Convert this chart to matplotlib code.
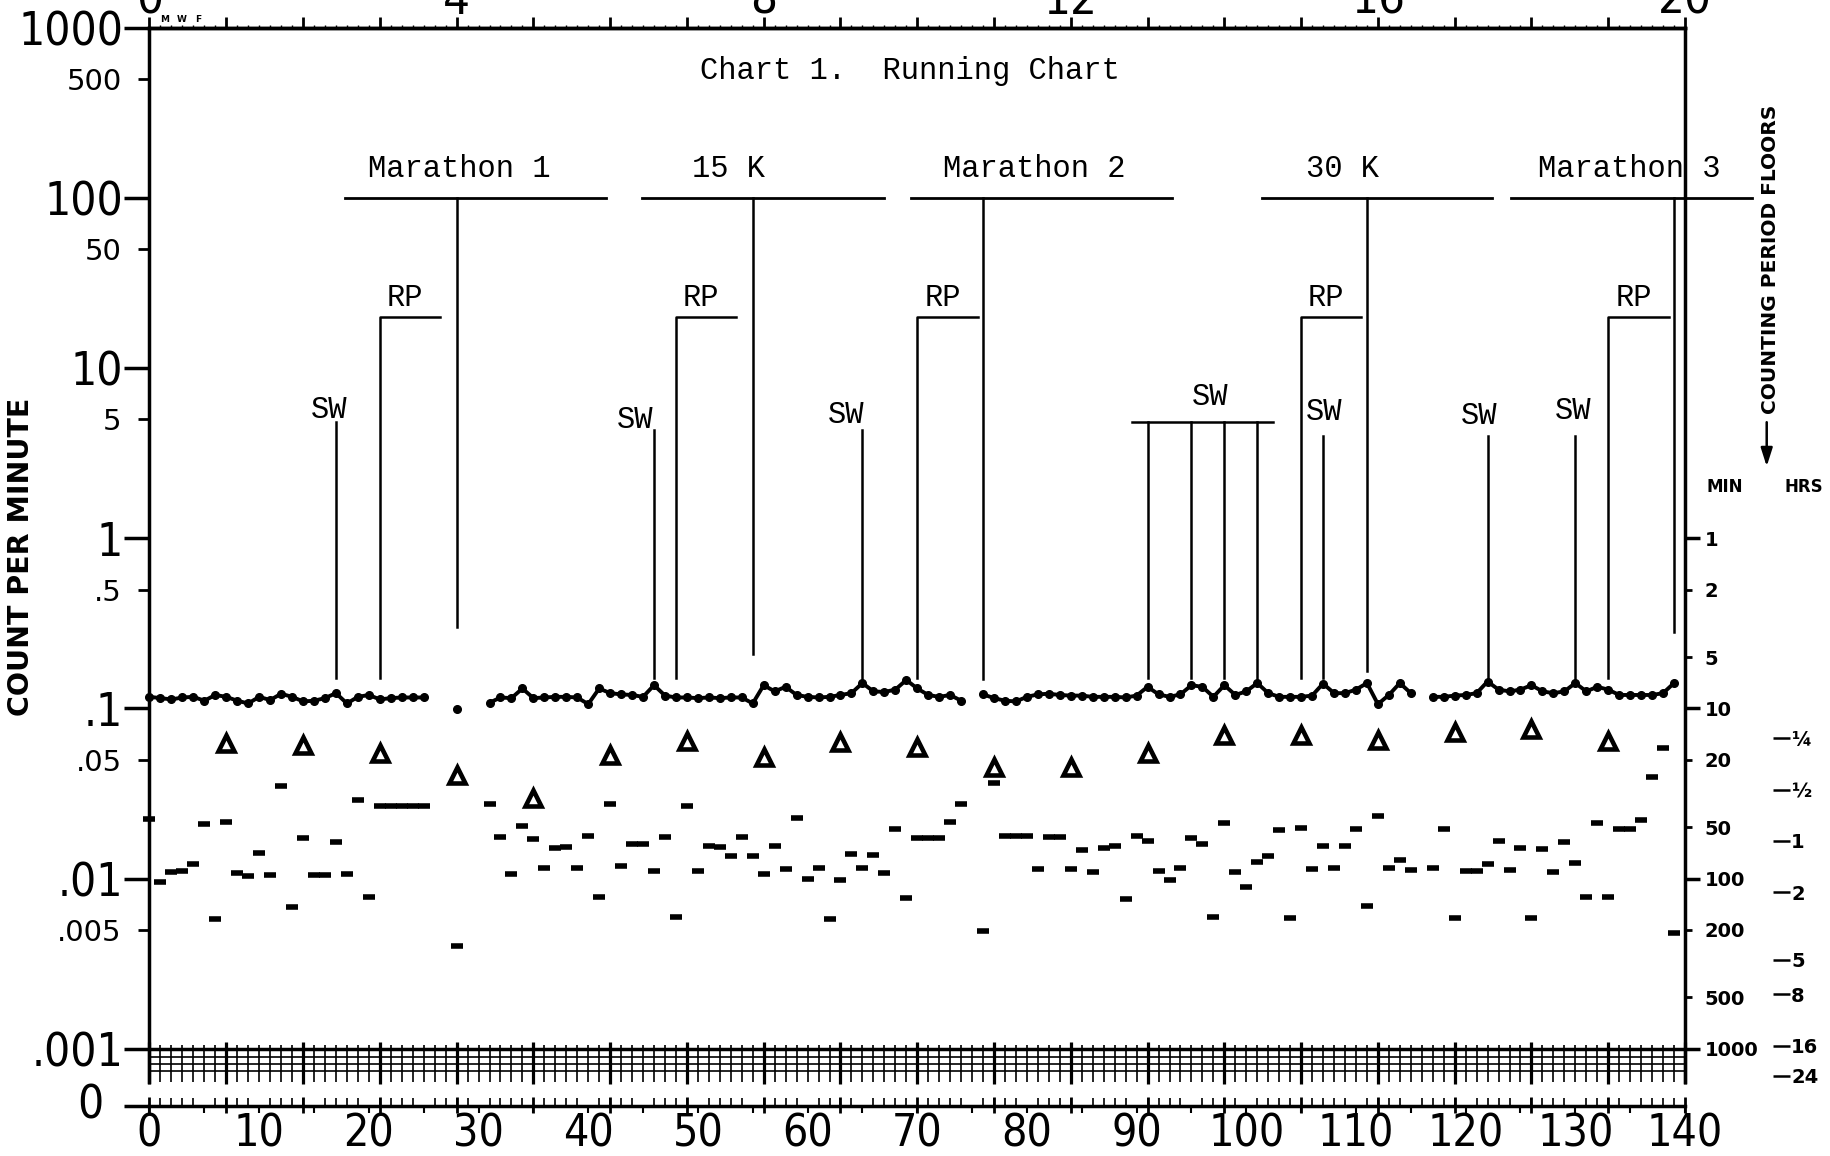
import matplotlib
matplotlib.use('Agg')
import matplotlib.pyplot as plt
import numpy as np

# ---- values (count per minute, one entry per day) ----
lineDays = list(range(0, 26)) + [28] + list(range(31, 75)) + list(range(76, 116)) + list(range(117, 140))
lineValues = [0.117, 0.115, 0.113, 0.116, 0.117, 0.111, 0.120, 0.117, 0.111, 0.107,
              0.117, 0.112, 0.122, 0.117, 0.110, 0.111, 0.115, 0.123, 0.107, 0.117,
              0.120, 0.113, 0.115, 0.116, 0.116, 0.116,
              0.099,
              0.108, 0.116, 0.115, 0.131, 0.115, 0.116, 0.117, 0.117, 0.116, 0.106,
              0.131, 0.123, 0.121, 0.120, 0.117, 0.137, 0.119, 0.116, 0.116, 0.115,
              0.116, 0.115, 0.116, 0.116, 0.107, 0.137, 0.126, 0.134, 0.120, 0.117,
              0.116, 0.117, 0.120, 0.123, 0.141, 0.126, 0.125, 0.129, 0.147, 0.131,
              0.120, 0.117, 0.120, 0.111,
              0.121, 0.115, 0.111, 0.110, 0.117, 0.121, 0.122, 0.120, 0.119, 0.119,
              0.117, 0.117, 0.117, 0.116, 0.119, 0.134, 0.121, 0.117, 0.121, 0.137,
              0.134, 0.117, 0.137, 0.120, 0.126, 0.141, 0.123, 0.117, 0.117, 0.117,
              0.119, 0.140, 0.123, 0.123, 0.129, 0.141, 0.106, 0.120, 0.141, 0.123,
              0.117, 0.117, 0.119, 0.120, 0.123, 0.144, 0.129, 0.126, 0.129, 0.137,
              0.126, 0.123, 0.126, 0.141, 0.126, 0.134, 0.129, 0.120, 0.120, 0.120,
              0.120, 0.123, 0.141]

dashDays = list(lineDays)
dashValues = [0.0224, 0.0095, 0.0109, 0.0111, 0.0122, 0.0209, 0.00578, 0.0216, 0.0108, 0.0104,
              0.0141, 0.0105, 0.035, 0.00684, 0.0172, 0.0105, 0.0105, 0.0163, 0.0106, 0.029,
              0.0078, 0.0268, 0.0268, 0.0268, 0.0268, 0.0268,
              0.0040,
              0.0274, 0.0176, 0.0106, 0.0205, 0.017, 0.0116, 0.0152, 0.0154, 0.0115, 0.0179,
              0.0078, 0.0275, 0.0119, 0.0159, 0.0159, 0.0111, 0.0176, 0.00597, 0.0268, 0.0111,
              0.0156, 0.0153, 0.0136, 0.0175, 0.0136, 0.0107, 0.0156, 0.0114, 0.0226, 0.0099,
              0.0116, 0.00576, 0.0098, 0.0139, 0.0115, 0.0138, 0.0108, 0.0195, 0.0077, 0.0174,
              0.0174, 0.0174, 0.0215, 0.0275,
              0.00494, 0.0366, 0.0178, 0.0178, 0.0178, 0.0114, 0.0176, 0.0176, 0.0114, 0.0147,
              0.0109, 0.0151, 0.0156, 0.00759, 0.0178, 0.0166, 0.0111, 0.0098, 0.0116, 0.0174,
              0.016, 0.00597, 0.0211, 0.011, 0.00896, 0.0125, 0.0135, 0.0193, 0.00589, 0.0198,
              0.0114, 0.0156, 0.0115, 0.0156, 0.0196, 0.0069, 0.0233, 0.0115, 0.0128, 0.0112,
              0.0116, 0.0196, 0.00589, 0.0111, 0.0111, 0.0122, 0.0166, 0.0113, 0.0151, 0.00589,
              0.015, 0.0109, 0.0163, 0.0123, 0.00783, 0.0211, 0.0078, 0.0195, 0.0195, 0.0221,
              0.0394, 0.0583, 0.00481]

triangleDays = list(range(7, 134, 7))
triangleValues = [0.0624, 0.061, 0.0546, 0.0407, 0.0297, 0.0533, 0.0644, 0.0521, 0.0638, 0.0597,
                  0.0451, 0.0455, 0.0546, 0.0698, 0.0698, 0.0653, 0.073, 0.0755, 0.0644]

# phase / event annotations
raceNames = ['Marathon 1', '15 K', 'Marathon 2', '30 K', 'Marathon 3']
raceDays = [28, 55, 76, 111, 139]
raceStarts = [17.8, 44.9, 69.4, 101.4, 124.1]
raceEnds = [41.6, 67.0, 93.2, 122.4, 146.1]
raceLabelDays = [28.2, 52.8, 80.7, 108.8, 134.9]
raceLineBottoms = [0.30, 0.21, 0.148, 0.165, 0.28]

rpDays = [21, 48, 70, 105, 133]

swDays = [17, 46, 65, 91, 95, 98, 101, 107, 122, 130]
swTops = [4.8, 4.35, 4.35, 4.8, 4.8, 4.8, 4.8, 4.0, 4.0, 4.0]
swLabelDays = [16.4, 44.3, 63.5, 96.7, 107.1, 121.2, 129.8]
swLabelValues = [5.09, 4.48, 4.78, 6.05, 4.93, 4.70, 5.01]
swBracket = (89.6, 102.4, 4.8)

# axis labels
leftMajorValues = [1000, 100, 10, 1, 0.1, 0.01, 0.001]
leftMajorLabels = ['1000', '100', '10', '1', '.1', '.01', '.001']
leftMinorValues = [500, 50, 5, 0.5, 0.05, 0.005]
leftMinorLabels = ['500', '50', '5', '.5', '.05', '.005']
minuteMajor = [1, 10, 100, 1000]
minuteMinor = [2, 5, 20, 50, 200, 500]
hourFloors = [0.25, 0.5, 1, 2, 5, 8, 16, 24]
hourLabels = ['¼', '½', '1', '2', '5', '8', '16', '24']

ZERO = 10 ** -3.337      # the "0" line under the chart
GRID_BOTTOM = 10 ** -3.194
MONO = 'Liberation Mono'

fig = plt.figure(figsize=(18.31, 11.56), dpi=100, facecolor='white')
ax = fig.add_axes([149.5 / 1831, 1 - 1106 / 1156, 1535.5 / 1831, 1078 / 1156])
ax.set_yscale('log')
ax.set_ylim(ZERO, 1000)
ax.set_xlim(0, 140)

for side in ['left', 'right', 'top', 'bottom']:
    ax.spines[side].set_linewidth(2.5)
ax.spines['left'].set_bounds(GRID_BOTTOM, 1000)
ax.spines['right'].set_bounds(GRID_BOTTOM, 1000)

# left count axis
ax.set_yticks([ZERO] + leftMajorValues, [''] + leftMajorLabels)
ax.set_yticks(leftMinorValues, leftMinorLabels, minor=True)
ax.tick_params(axis='y', which='major', right=False, length=18, width=2.5, pad=1, labelsize=33)
ax.tick_params(axis='y', which='minor', right=False, length=8, width=2, pad=12, labelsize=21)
ax.annotate('0', xy=(0, ZERO), xytext=(-33, 0), textcoords='offset points', fontstretch='condensed',
            ha='right', va='center', fontsize=33, annotation_clip=False)
ax.set_ylabel('COUNT PER MINUTE', fontsize=20.5, fontweight='bold')
ax.yaxis.set_label_coords(-0.0746, 0.509)

# bottom day axis on the zero line
ax.set_xticks(range(0, 141, 5), [str(d) if d % 10 == 0 else '' for d in range(0, 141, 5)])
ax.set_xticks(range(0, 141), minor=True)
ax.tick_params(axis='x', which='major', direction='out', length=5, width=1.5, pad=0, labelsize=32)
ax.tick_params(axis='x', which='minor', direction='in', length=6, width=1.2)
for lbl in ax.get_xticklabels() + ax.get_yticklabels():
    lbl.set_fontstretch('condensed')
weekDays = np.arange(0, 141, 7)
ax.vlines(weekDays, ZERO * 10 ** -0.04, ZERO * 10 ** 0.055, color='black', lw=2, clip_on=False)

# ruled band between .001 and the zero line
ax.vlines(np.arange(0, 141), GRID_BOTTOM, 10 ** -2.98, color='black', lw=1.2)
ax.vlines(weekDays, 10 ** -3.21, 10 ** -2.96, color='black', lw=2.3, clip_on=False)
ax.hlines([10 ** -3.047, 10 ** -3.09, 10 ** -3.129], 0, 140, color='black', lw=1.2)
ax.hlines(0.001, 0, 140, color='black', lw=2.5)

# top week axis
top = ax.secondary_xaxis('top', functions=(lambda d: d / 7, lambda w: w * 7))
top.set_xticks(range(0, 21), [str(w) if w % 4 == 0 else '' for w in range(21)])
top.set_xticks(np.arange(0, 20.01, 1 / 7), minor=True)
top.tick_params(which='major', length=8, width=2, pad=-5, labelsize=34)
top.tick_params(which='minor', length=2.5, width=1)
top.spines['top'].set_linewidth(2.5)
for lbl in top.get_xticklabels():
    lbl.set_fontstretch('condensed')
for lbl, x in zip(['M', 'W', 'F'], [1.4, 2.9, 4.4]):
    ax.text(x, 1116, lbl, fontsize=6.5, fontweight='bold', ha='center', va='center', clip_on=False)

# right: counting period floors (minutes and hours)
rax = ax.twinx()
rax.set_yscale('log')
rax.set_ylim(ZERO, 1000)
for s in rax.spines.values():
    s.set_visible(False)
rax.set_yticks([1 / m for m in minuteMajor], [str(m) for m in minuteMajor])
rax.set_yticks([1 / m for m in minuteMinor], [str(m) for m in minuteMinor], minor=True)
rax.tick_params(axis='y', which='major', length=11, width=2.5, pad=3, labelsize=14)
rax.tick_params(axis='y', which='minor', length=5, width=2, pad=9, labelsize=14)
for lbl in rax.get_yticklabels(which='both'):
    lbl.set_fontweight('bold')

hax = ax.twinx()
hax.set_yscale('log')
hax.set_ylim(ZERO, 1000)
hax.spines['right'].set_position(('axes', 1.0573))
for s in hax.spines.values():
    s.set_visible(False)
hax.set_yticks([1 / (60 * h) for h in hourFloors], hourLabels)
hax.yaxis.set_minor_locator(matplotlib.ticker.NullLocator())
hax.tick_params(axis='y', which='major', length=12, width=1.8, pad=1, labelsize=14)
for lbl in hax.get_yticklabels():
    lbl.set_fontweight('bold')

ax.text(143.6, 2.0, 'MIN', fontsize=12, fontweight='bold', ha='center', va='center', clip_on=False)
ax.text(150.8, 2.0, 'HRS', fontsize=12, fontweight='bold', ha='center', va='center', clip_on=False)
ax.text(147.8, 43.9, 'COUNTING PERIOD FLOORS', rotation=90, fontsize=14.5, fontweight='bold',
        ha='center', va='center', clip_on=False)
ax.annotate('', xy=(147.45, 2.55), xytext=(147.45, 5.0), annotation_clip=False,
            arrowprops=dict(arrowstyle='-|>,head_width=0.35,head_length=1.1', color='black', lw=1.8))

# ---- data ----
segStart = 0
for i in range(1, len(lineDays) + 1):
    if i == len(lineDays) or lineDays[i] - lineDays[i - 1] > 1:
        ax.plot(lineDays[segStart:i], lineValues[segStart:i], color='black', lw=2.8,
                marker='o', ms=5.5, clip_on=False, zorder=4)
        segStart = i
ax.plot(dashDays, dashValues, linestyle='none', marker='_', ms=9, mew=4, color='black', clip_on=False)
ax.plot(triangleDays, triangleValues, linestyle='none', marker='^', ms=11, mew=3.3,
        markerfacecolor='white', markeredgecolor='black')

# ---- annotations ----
ax.text(69.3, 499, 'Chart 1.  Running Chart', family=MONO, fontsize=22, ha='center', va='baseline')
for name, day, x0, x1, lx, bottom in zip(raceNames, raceDays, raceStarts, raceEnds, raceLabelDays, raceLineBottoms):
    ax.plot([x0, x1], [100, 100], color='black', lw=2, clip_on=False)
    ax.plot([day, day], [100, bottom], color='black', lw=1.8)
    ax.text(lx, 133, name, family=MONO, fontsize=22, ha='center', va='baseline', clip_on=False)

for day in rpDays:
    ax.plot([day, day, day + 5.5], [0.15, 20, 20], color='black', lw=1.8)
    ax.text(day + 2.3, 23.2, 'RP', family=MONO, fontsize=22, ha='center', va='baseline')

for day, topValue in zip(swDays, swTops):
    ax.plot([day, day], [0.15, topValue], color='black', lw=1.8)
ax.plot([swBracket[0], swBracket[1]], [swBracket[2], swBracket[2]], color='black', lw=1.8)
for x, y in zip(swLabelDays, swLabelValues):
    ax.text(x, y, 'SW', family=MONO, fontsize=22, ha='center', va='baseline')

fig.savefig('out.png', dpi=100, facecolor='white')
